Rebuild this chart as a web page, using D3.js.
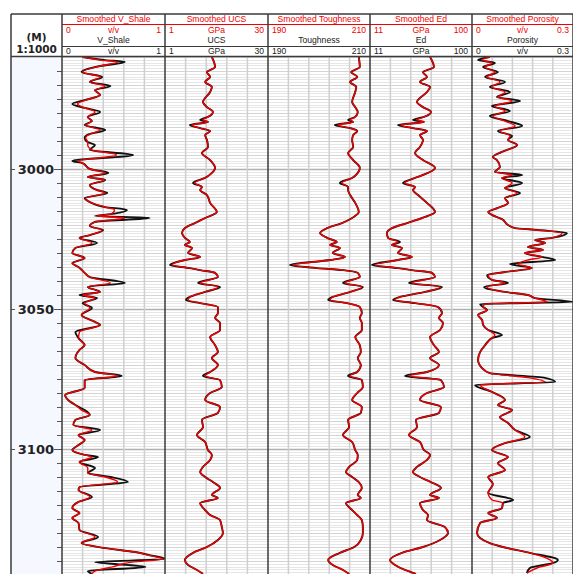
<!DOCTYPE html>
<html><head><meta charset="utf-8">
<script src="https://cdn.jsdelivr.net/npm/d3@7"></script>
<style>
body{margin:0;background:#fff}
svg{display:block}
</style>
</head><body>
<svg id="chart" width="573" height="574"></svg>
<script>
// ---- Track header labels ----
const trackTitles = ["Smoothed V_Shale", "Smoothed UCS", "Smoothed Toughness", "Smoothed Ed", "Smoothed Porosity"];
const trackNames  = ["V_Shale", "UCS", "Toughness", "Ed", "Porosity"];
const trackUnits  = ["v/v", "GPa", "", "GPa", "v/v"];
const trackMin    = [0, 1, 190, 11, 0];
const trackMax    = [1, 30, 210, 100, 0.3];
const trackMinLabels = ["0", "1", "190", "11", "0"];
const trackMaxLabels = ["1", "30", "210", "100", "0.3"];

// ---- Depth axis (m) ----
const depthTop = 2960, depthBottom = 3144.6;
const depthLabels = [3000, 3050, 3100];

// ---- V_Shale (v/v) ----
const vshDepth = [2960.0,2961.1,2961.8,2963.2,2965.4,2967.1,2968.9,2970.4,2971.8,2973.6,
2975.4,2976.8,2978.2,2979.6,2981.4,2982.9,2984.3,2986.1,2987.5,2988.9,
2990.4,2991.4,2993.2,2995.0,2997.1,2997.9,3000.0,3001.4,3002.9,3003.9,
3005.7,3007.5,3008.6,3010.4,3011.8,3013.6,3014.6,3016.1,3016.8,3017.5,
3018.9,3020.4,3021.8,3023.6,3024.6,3026.4,3028.2,3030.0,3031.8,3033.6,
3035.0,3037.1,3038.6,3040.7,3042.1,3043.9,3045.0,3046.1,3047.9,3049.6,
3052.1,3054.6,3055.7,3058.2,3060.4,3062.9,3064.6,3067.5,3070.0,3072.5,
3073.9,3075.4,3078.2,3080.7,3082.5,3084.3,3086.1,3087.9,3089.6,3091.4,
3093.2,3095.0,3096.8,3098.6,3100.4,3102.1,3102.9,3104.6,3106.8,3108.6,
3110.0,3111.8,3113.6,3114.6,3117.1,3118.9,3121.1,3122.9,3124.6,3126.4,
3128.9,3131.4,3133.6,3135.4,3136.8,3137.9,3139.3,3140.4,3142.1,3143.6,
3144.6];
const vshRaw = [.20,.42,.61,.37,.19,.39,.27,.47,.32,.37,
.22,.10,.22,.37,.25,.29,.22,.42,.27,.22,
.25,.32,.27,.69,.10,.20,.27,.45,.25,.42,
.27,.34,.44,.22,.27,.42,.63,.47,.32,.85,
.32,.27,.40,.27,.17,.34,.13,.10,.22,.10,
.16,.22,.27,.61,.25,.37,.17,.34,.20,.29,
.19,.32,.37,.13,.16,.22,.17,.13,.22,.32,
.58,.22,.22,.03,.06,.13,.22,.27,.13,.11,
.37,.16,.22,.16,.10,.22,.35,.17,.32,.25,
.47,.64,.17,.16,.29,.16,.10,.17,.10,.16,
.17,.35,.19,.42,.71,.85,1.0,.32,.81,.25,
.29];
const vshSmooth = [.20,.37,.54,.37,.20,.37,.27,.42,.32,.37,
.23,.15,.22,.32,.25,.29,.23,.37,.27,.23,
.25,.25,.29,.53,.16,.20,.27,.42,.25,.41,
.27,.34,.42,.23,.27,.42,.51,.47,.34,.61,
.32,.27,.39,.27,.17,.29,.13,.10,.22,.10,
.16,.22,.27,.47,.25,.37,.20,.32,.22,.27,
.19,.32,.37,.17,.16,.22,.17,.13,.22,.32,
.54,.22,.22,.03,.06,.13,.19,.27,.13,.11,
.29,.16,.22,.16,.10,.22,.29,.17,.25,.25,
.42,.54,.17,.16,.27,.16,.10,.17,.10,.16,
.17,.32,.19,.42,.71,.83,.98,.68,.49,.32,
.29];

// ---- Mechanical logs share one depth sampling ----
const mechDepth = [2960.0,2963.6,2965.4,2967.1,2968.9,2970.7,2972.5,2976.1,2977.9,2979.6,
2981.4,2982.5,2983.2,2984.3,2985.4,2986.4,2987.9,2989.6,2992.1,2994.3,
2996.8,2999.6,3001.4,3003.2,3005.0,3006.4,3007.5,3009.3,3012.1,3015.4,
3017.5,3019.3,3021.1,3022.9,3024.6,3026.1,3027.1,3028.2,3030.0,3031.4,
3032.5,3034.3,3035.4,3036.1,3037.1,3038.6,3040.7,3042.1,3043.9,3045.7,
3046.8,3047.9,3049.3,3051.4,3053.2,3055.0,3057.5,3060.0,3062.9,3065.4,
3067.5,3070.0,3072.5,3073.9,3075.4,3077.9,3080.0,3082.5,3085.0,3087.1,
3089.6,3092.1,3095.0,3097.5,3100.4,3102.1,3103.9,3106.4,3108.2,3110.0,
3111.8,3113.9,3116.4,3117.5,3119.3,3121.8,3123.6,3125.4,3127.9,3130.0,
3132.5,3135.0,3137.1,3139.6,3141.4,3143.2,3144.6];

// UCS (GPa)
const ucsRaw = [14.2,15.1,12.8,13.7,12.3,14.2,13.7,11.7,12.8,14.5,
13.1,10.9,13.1,8.0,10.9,13.7,12.3,12.8,13.1,11.4,
13.7,15.1,14.2,12.3,8.9,11.4,10.9,12.8,13.7,15.6,
12.3,9.4,6.6,5.8,6.6,8.0,6.6,8.6,7.5,10.9,
6.6,2.4,8.0,10.9,15.1,15.9,10.3,16.5,12.3,8.0,
6.9,10.9,15.9,15.9,15.1,16.5,16.5,13.7,15.1,15.9,
14.2,15.9,13.7,11.7,16.5,17.0,13.7,12.3,16.5,15.9,
11.4,11.7,10.0,12.3,13.1,14.2,13.7,11.7,10.9,12.3,
14.5,16.5,14.2,15.9,10.9,12.3,13.7,16.5,17.0,17.3,
15.9,12.8,8.9,6.6,7.5,10.0,11.7];
const ucsSmooth = [14.2,15.1,12.8,13.7,12.3,14.2,13.7,11.7,12.8,14.5,
13.1,11.7,13.1,8.6,10.9,13.7,12.3,12.8,13.1,11.4,
13.7,15.1,14.2,12.3,9.4,11.4,10.9,12.8,13.7,15.6,
12.3,9.4,6.6,5.8,6.6,8.0,6.6,8.6,7.5,10.9,
6.6,3.0,8.0,10.9,15.1,15.9,10.9,15.9,12.3,8.0,
7.5,10.9,15.9,15.9,15.1,16.5,16.5,13.7,15.1,15.9,
14.2,15.9,13.7,12.3,16.5,17.0,13.7,12.3,16.5,15.9,
11.4,11.7,10.0,12.3,13.1,14.2,13.7,11.7,10.9,12.3,
14.5,16.5,14.2,15.9,10.9,12.3,13.7,16.5,17.0,17.3,
15.9,12.8,8.9,6.6,7.5,10.0,11.7];

// Toughness
const tghRaw = [207.8,208.0,206.3,207.5,206.1,207.3,207.1,206.5,207.1,207.6,
207.1,205.7,206.7,203.1,206.1,207.5,206.7,206.5,206.7,205.7,
206.7,208.0,207.6,206.5,204.1,205.7,205.7,206.1,207.1,207.8,
206.5,204.5,201.6,200.2,201.6,203.5,202.2,204.1,202.7,205.1,
202.2,194.3,199.6,204.7,207.6,208.0,204.7,208.6,206.1,202.7,
201.8,205.5,208.0,208.4,208.0,208.4,208.4,207.1,208.0,208.2,
207.6,208.2,207.5,205.7,208.4,208.6,207.5,206.5,208.4,208.2,
205.7,205.9,204.7,206.5,207.1,207.6,207.5,205.9,205.3,206.5,
207.8,208.4,207.6,208.2,205.3,206.5,207.5,208.4,208.6,208.6,
208.2,206.9,204.1,201.8,202.7,204.7,205.9];
const tghSmooth = [207.8,208.0,206.3,207.5,206.1,207.3,207.1,206.5,207.1,207.6,
207.1,206.1,206.7,203.7,206.1,207.5,206.7,206.5,206.7,205.7,
206.7,208.0,207.6,206.5,204.5,205.7,205.7,206.1,207.1,207.8,
206.5,204.5,201.6,200.2,201.6,203.5,202.2,204.1,202.7,205.1,
202.2,194.9,199.6,204.7,207.6,208.0,205.1,208.4,206.1,202.7,
202.2,205.5,208.0,208.4,208.0,208.4,208.4,207.1,208.0,208.2,
207.6,208.2,207.5,206.1,208.4,208.6,207.5,206.5,208.4,208.2,
205.7,205.9,204.7,206.5,207.1,207.6,207.5,205.9,205.3,206.5,
207.8,208.4,207.6,208.2,205.3,206.5,207.5,208.4,208.6,208.6,
208.2,206.9,204.1,201.8,202.7,204.7,205.9];

// Ed (GPa)
const edRaw = [63.4,66.8,57.2,60.7,54.6,63.4,60.7,52.0,57.2,64.2,
58.1,48.5,58.1,35.4,48.5,60.7,54.6,57.2,54.6,50.3,
57.2,67.7,61.6,50.3,39.8,50.3,48.5,52.9,60.7,67.7,
56.4,43.3,30.2,25.8,26.7,37.2,30.2,38.9,35.4,47.6,
35.4,12.7,35.4,47.6,65.1,67.7,45.0,73.8,59.0,37.2,
31.1,50.3,70.3,73.8,71.2,74.7,72.1,63.4,66.8,71.2,
63.4,71.2,60.7,41.5,72.9,75.6,60.7,54.6,72.9,71.2,
51.1,52.0,45.0,54.6,58.1,63.4,60.7,52.0,48.5,54.6,
64.2,72.9,63.4,71.2,54.6,57.2,61.6,60.7,76.4,79.1,
72.1,57.2,38.9,28.5,32.8,41.5,51.1];
const edSmooth = [63.4,66.8,57.2,60.7,54.6,63.4,60.7,52.0,57.2,64.2,
58.1,52.0,58.1,38.0,48.5,60.7,54.6,57.2,54.6,50.3,
57.2,67.7,61.6,50.3,41.5,50.3,48.5,52.9,60.7,67.7,
56.4,43.3,30.2,25.8,26.7,35.4,30.2,38.9,35.4,47.6,
35.4,15.4,35.4,47.6,65.1,67.7,47.6,72.1,59.0,37.2,
32.8,50.3,70.3,73.8,71.2,74.7,72.1,63.4,66.8,71.2,
63.4,71.2,60.7,45.9,72.9,75.6,60.7,54.6,72.9,71.2,
51.1,52.0,45.0,54.6,58.1,63.4,60.7,52.0,48.5,54.6,
64.2,72.9,63.4,71.2,54.6,57.2,61.6,60.7,76.4,79.1,
72.1,57.2,38.9,28.5,32.8,41.5,51.1];

// ---- Porosity (v/v) ----
const porDepth = [2960.0,2961.1,2962.1,2963.6,2965.4,2967.1,2968.9,2970.7,2972.5,2974.3,
2975.7,2977.5,2979.3,2981.1,2982.9,2984.6,2986.4,2988.2,2989.6,2991.4,
2993.9,2995.7,2996.8,2999.3,3001.1,3002.1,3003.2,3005.0,3006.8,3008.6,
3010.4,3012.1,3013.9,3015.4,3016.4,3017.9,3020.0,3021.1,3021.8,3022.9,
3024.6,3025.4,3026.4,3027.9,3028.9,3030.0,3031.4,3032.5,3033.9,3035.4,
3036.8,3037.9,3039.6,3040.7,3042.1,3043.9,3045.0,3046.1,3047.5,3048.2,
3049.3,3050.4,3052.1,3053.9,3055.7,3057.5,3059.3,3060.4,3062.9,3065.4,
3068.2,3071.1,3072.9,3074.6,3076.1,3077.1,3079.6,3082.5,3084.3,3086.1,
3088.6,3090.7,3093.2,3095.7,3097.9,3100.4,3102.9,3105.0,3107.5,3110.0,
3112.5,3115.7,3118.2,3119.3,3121.1,3122.9,3124.6,3126.4,3130.0,3131.8,
3133.6,3135.0,3137.1,3139.6,3140.7,3142.5,3144.3];
const porRaw = [.053,.018,.068,.033,.077,.039,.098,.053,.113,.074,
.143,.059,.113,.053,.107,.149,.077,.119,.107,.134,
.089,.062,.074,.083,.068,.149,.089,.149,.098,.143,
.098,.107,.077,.048,.059,.089,.107,.128,.196,.282,
.238,.187,.217,.166,.211,.157,.208,.247,.113,.178,
.098,.045,.059,.107,.036,.098,.166,.187,.300,.024,
.033,.045,.018,.030,.033,.048,.089,.059,.039,.024,
.018,.030,.053,.217,.247,.009,.059,.098,.077,.119,
.083,.107,.128,.172,.098,.059,.107,.077,.098,.048,
.062,.048,.122,.092,.089,.048,.074,.024,.015,.024,
.053,.092,.172,.255,.241,.172,.163];
const porSmooth = [.053,.030,.059,.039,.068,.045,.083,.059,.098,.077,
.119,.068,.098,.062,.098,.128,.083,.113,.107,.134,
.089,.062,.074,.083,.068,.119,.089,.119,.098,.134,
.098,.107,.077,.048,.059,.089,.107,.128,.196,.267,
.238,.187,.217,.166,.211,.157,.208,.166,.137,.178,
.098,.048,.059,.098,.045,.098,.166,.187,.223,.039,
.033,.045,.018,.030,.033,.048,.068,.059,.039,.024,
.018,.030,.053,.172,.217,.024,.059,.098,.077,.119,
.083,.107,.128,.157,.098,.059,.107,.077,.098,.048,
.062,.048,.060,.092,.089,.048,.074,.024,.015,.024,
.053,.092,.172,.232,.241,.193,.163];

// ---- Layout ----
const W = 573, H = 574;
const left = 11, headerTop = 14, plotTop = 57, plotBottom = 574;
const trackEdges = [62, 165, 268, 370, 472, 573];
const trackDepths = [vshDepth, mechDepth, mechDepth, mechDepth, porDepth];
const trackRaw = [vshRaw, ucsRaw, tghRaw, edRaw, porRaw];
const trackSmooth = [vshSmooth, ucsSmooth, tghSmooth, edSmooth, porSmooth];

const svg = d3.select("#chart");
const y = d3.scaleLinear().domain([depthTop, depthBottom]).range([plotTop, plotTop + (depthBottom - depthTop) * 2.8]);

const RED = "#f00000", DARK = "#3a3a3a";
const txtFont = "'Liberation Sans', Arial, sans-serif";
const boldFont = "'DejaVu Sans', sans-serif";

// depth track background
svg.append("rect").attr("x", left).attr("y", plotTop).attr("width", trackEdges[0] - left)
  .attr("height", plotBottom - plotTop).attr("fill", "#f5f8fe");

// horizontal grid across the log tracks: every metre, stronger every 5 m and 50 m
const gridG = svg.append("g");
const metres = d3.range(Math.ceil(depthTop), Math.floor(depthBottom) + 1);
metres.forEach(m => {
  const major = m % 50 === 0, five = m % 5 === 0;
  gridG.append("line")
    .attr("x1", trackEdges[0]).attr("x2", trackEdges[5])
    .attr("y1", Math.round(y(m)) + 0.5).attr("y2", Math.round(y(m)) + 0.5)
    .attr("stroke", major ? "#b0b0b0" : five ? "#d4d4d4" : "#e6e6e6")
    .attr("stroke-width", major ? 1.5 : 1);
});

// per-track vertical grid and curves
trackTitles.forEach((t, i) => {
  const x0 = trackEdges[i], x1 = trackEdges[i + 1];
  const xs = d3.scaleLinear().domain([trackMin[i], trackMax[i]]).range([x0, x1]);
  const g = svg.append("g");
  d3.range(1, 5).forEach(k => {
    const gx = xs(trackMin[i] + (trackMax[i] - trackMin[i]) * k / 5);
    g.append("line").attr("x1", gx).attr("x2", gx).attr("y1", plotTop).attr("y2", plotBottom)
      .attr("stroke", "#cfcfcf").attr("stroke-width", 1.5);
  });
  const clipId = "clip" + i;
  svg.append("clipPath").attr("id", clipId).append("rect")
    .attr("x", x0).attr("y", plotTop).attr("width", x1 - x0).attr("height", plotBottom - plotTop);
  const depths = trackDepths[i];
  const line = d3.line().x(d => xs(d[1])).y(d => y(d[0])).curve(d3.curveMonotoneY);
  const rawPts = depths.map((d, k) => [d, trackRaw[i][k]]);
  const smPts = depths.map((d, k) => [d, trackSmooth[i][k]]);
  const cg = g.append("g").attr("clip-path", `url(#${clipId})`);
  cg.append("path").attr("d", line(rawPts)).attr("fill", "none").attr("stroke", "#111")
    .attr("stroke-width", 1.9).attr("stroke-linejoin", "round");
  cg.append("path").attr("d", line(smPts)).attr("fill", "none").attr("stroke", RED)
    .attr("stroke-width", 1.4).attr("stroke-linejoin", "round");
});

// depth axis ticks and labels
const dG = svg.append("g");
d3.range(2965, 3145, 5).forEach(m => {
  const yy = Math.round(y(m)) + 0.5;
  const major = depthLabels.includes(m);
  dG.append("line").attr("x1", major ? 54 : 57).attr("x2", trackEdges[0]).attr("y1", yy).attr("y2", yy)
    .attr("stroke", "#555").attr("stroke-width", 1);
  if (major) {
    dG.append("line").attr("x1", left).attr("x2", left + 4).attr("y1", yy).attr("y2", yy)
      .attr("stroke", "#555").attr("stroke-width", 1);
  }
});
depthLabels.forEach(m => {
  dG.append("text").attr("x", 54).attr("y", y(m) + 4.8).attr("text-anchor", "end")
    .attr("font-family", boldFont).attr("font-weight", "bold").attr("font-size", 13)
    .attr("fill", "#222").text(m);
});

// header
const hG = svg.append("g");
hG.append("text").attr("x", 36.5).attr("y", 40.5).attr("text-anchor", "middle")
  .attr("font-family", boldFont).attr("font-weight", "bold").attr("font-size", 10.5)
  .attr("fill", "#222").text("(M)");
hG.append("text").attr("x", 36.5).attr("y", 52.5).attr("text-anchor", "middle")
  .attr("font-family", boldFont).attr("font-weight", "bold").attr("font-size", 10.5)
  .attr("fill", "#222").text("1:1000");

trackTitles.forEach((t, i) => {
  const x0 = trackEdges[i], x1 = trackEdges[i + 1], xm = (x0 + x1) / 2;
  const txt = (x, yy, s, anchor, col) => hG.append("text").attr("x", x).attr("y", yy)
    .attr("text-anchor", anchor).attr("font-family", txtFont).attr("font-size", 8.6)
    .attr("fill", col).text(s);
  txt(xm, 21.8, t, "middle", RED);
  hG.append("line").attr("x1", x0).attr("x2", x1).attr("y1", 24.5).attr("y2", 24.5)
    .attr("stroke", RED).attr("stroke-width", 1);
  txt(x0 + 4, 32.6, trackMinLabels[i], "start", RED);
  txt(xm, 32.6, trackUnits[i], "middle", RED);
  txt(x1 - 4, 32.6, trackMaxLabels[i], "end", RED);
  txt(xm, 43, trackNames[i], "middle", "#222");
  txt(x0 + 4, 54.3, trackMinLabels[i], "start", "#222");
  txt(xm, 54.3, trackUnits[i], "middle", "#222");
  txt(x1 - 4, 54.3, trackMaxLabels[i], "end", "#222");
  hG.append("line").attr("x1", x0).attr("x2", x1).attr("y1", 46.5).attr("y2", 46.5)
    .attr("stroke", DARK).attr("stroke-width", 1.2);
});

// frame lines
const fG = svg.append("g").attr("stroke", DARK).attr("stroke-width", 1.5);
fG.append("line").attr("x1", left).attr("x2", W).attr("y1", headerTop).attr("y2", headerTop);
fG.append("line").attr("x1", left).attr("x2", W).attr("y1", plotTop - 0.5).attr("y2", plotTop - 0.5);
fG.append("line").attr("x1", left).attr("x2", left).attr("y1", headerTop).attr("y2", H);
trackEdges.forEach(x => {
  fG.append("line").attr("x1", x).attr("x2", x).attr("y1", headerTop).attr("y2", H);
});
</script>
</body></html>
